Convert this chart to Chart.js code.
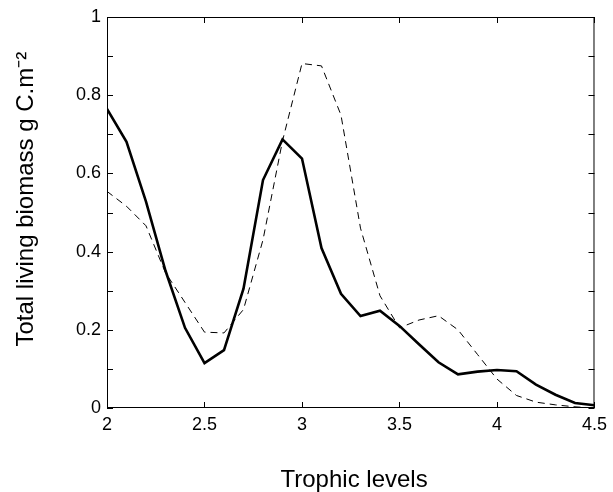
<!DOCTYPE html>
<html>
<head>
<meta charset="utf-8">
<script src="https://cdn.jsdelivr.net/npm/chart.js@4.4.1/dist/chart.umd.min.js"></script>
<style>
  html, body { margin: 0; padding: 0; background: #fff; }
</style>
</head>
<body>
<canvas id="biomass" width="613" height="492"></canvas>
<script>
// trophic levels (x) and total living biomass for the two runs
const levels = [2.0, 2.1, 2.2, 2.3, 2.4, 2.5, 2.6, 2.7, 2.8, 2.9, 3.0, 3.1, 3.2,
                3.3, 3.4, 3.5, 3.6, 3.7, 3.8, 3.9, 4.0, 4.1, 4.2, 4.3, 4.4, 4.5];
const solidBiomass = [0.765, 0.681, 0.528, 0.351, 0.205, 0.115, 0.148, 0.305, 0.583, 0.687,
                      0.638, 0.409, 0.292, 0.235, 0.249, 0.210, 0.163, 0.117, 0.086, 0.093,
                      0.097, 0.094, 0.060, 0.034, 0.013, 0.007];
const dashedBiomass = [0.554, 0.516, 0.466, 0.346, 0.270, 0.194, 0.192, 0.252, 0.430, 0.683,
                       0.881, 0.875, 0.749, 0.460, 0.287, 0.205, 0.225, 0.236, 0.200, 0.137,
                       0.074, 0.032, 0.015, 0.008, 0.003, 0.000];
const xTicks = [2, 2.5, 3, 3.5, 4, 4.5];

const pts = arr => arr.map((v, i) => ({ x: levels[i], y: v }));

// box around the plot + ticks pointing inwards on all four sides
const frame = {
  id: 'frame',
  afterDatasetsDraw(chart) {
    const { ctx, chartArea: { left, right, top, bottom }, scales: { x, y } } = chart;
    const len = 6;
    ctx.save();
    ctx.strokeStyle = '#000';
    ctx.lineWidth = 1;
    ctx.beginPath();
    x.ticks.forEach(t => {
      const px = Math.round(x.getPixelForValue(t.value)) + 0.5;
      ctx.moveTo(px, bottom); ctx.lineTo(px, bottom - len);
      ctx.moveTo(px, top); ctx.lineTo(px, top + len);
    });
    y.ticks.forEach(t => {
      const py = Math.round(y.getPixelForValue(t.value)) + 0.5;
      ctx.moveTo(left, py); ctx.lineTo(left + len, py);
      ctx.moveTo(right, py); ctx.lineTo(right - len, py);
    });
    ctx.stroke();
    ctx.strokeRect(left + 0.5, top + 0.5, right - left - 1, bottom - top - 1);
    ctx.restore();
  }
};

const font = 'Liberation Sans, Arial, sans-serif';

new Chart(document.getElementById('biomass'), {
  type: 'line',
  data: {
    datasets: [{
      label: 'solid',
      data: pts(solidBiomass),
      borderColor: '#000',
      borderWidth: 2.6,
      pointRadius: 0,
      tension: 0
    }, {
      label: 'dashed',
      data: pts(dashedBiomass),
      borderColor: '#000',
      borderWidth: 1,
      borderDash: [7, 5],
      pointRadius: 0,
      tension: 0
    }]
  },
  options: {
    responsive: false,
    animation: false,
    layout: { padding: { top: 17, right: 13, left: 0, bottom: 0 } },
    plugins: { legend: { display: false }, tooltip: { enabled: false } },
    scales: {
      x: {
        type: 'linear',
        min: 2, max: 4.5,
        afterFit: s => { s.height = 84; },
        afterBuildTicks: s => { s.ticks = xTicks.map(v => ({ value: v })); },
        grid: { display: false, drawTicks: false },
        border: { display: false },
        ticks: {
          color: '#000', padding: 6, maxRotation: 0,
          font: { family: font, size: 18 },
          callback: v => String(v)
        },
        title: {
          display: true, text: ' Trophic levels', color: '#000',
          font: { family: font, size: 24, lineHeight: 1 }, padding: { bottom: 0 }
        }
      },
      y: {
        min: 0, max: 1,
        afterFit: s => { s.width = 107; },
        grid: { display: false, drawTicks: false },
        border: { display: false },
        ticks: {
          stepSize: 0.1, color: '#000', padding: 6,
          font: { family: font, size: 18 },
          callback: (v, i) => (i % 2 === 0 ? String(Math.round(v * 10) / 10) : '')
        },
        title: {
          display: true, text: '    Total living biomass g C.m⁻²', color: '#000',
          font: { family: font, size: 24, lineHeight: 1 }, padding: { top: 14 }
        }
      }
    }
  },
  plugins: [frame]
});
</script>
</body>
</html>
